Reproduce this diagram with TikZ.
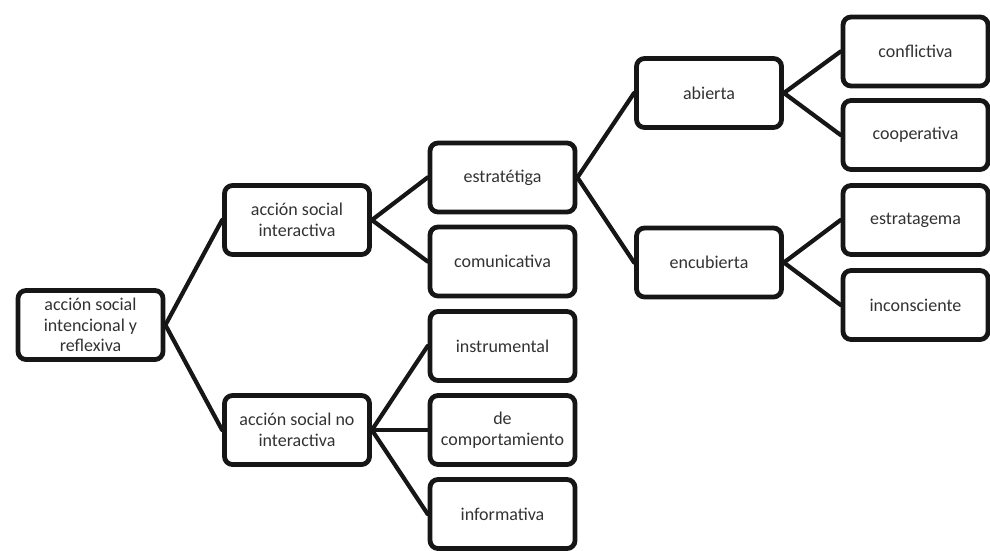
\documentclass[tikz,border=0pt]{standalone}
\usepackage{fontspec}
\setmainfont{Carlito}
\definecolor{boxline}{RGB}{22, 22, 22}
\definecolor{boxtext}{RGB}{50, 50, 50}
\tikzset{
    box/.style={draw=boxline, line width=4.8pt, rounded corners=8pt,
        minimum width=145pt, minimum height=69pt, align=center,
        text=boxtext, font=\fontsize{18}{20.5}\selectfont},
    link/.style={draw=boxline, line width=4.2pt, line cap=round},
}

\begin{document}
\begin{tikzpicture}[x=1pt, y=-1pt]
        \useasboundingbox (0, 0) rectangle (990, 551);

        % columns
        \node[box] (root) at (90.5, 325) {acción social\\intencional y\\reflexiva};
        \node[box] (inter) at (297, 220) {acción social\\interactiva};
        \node[box] (nointer) at (297, 430) {acción social no\\interactiva};

        \node[box] (estr) at (502.5, 177.5) {estratétiga};
        \node[box] (comu) at (502.5, 261.5) {comunicativa};
        \node[box] (instr) at (502.5, 346) {instrumental};
        \node[box] (compo) at (502.5, 430) {de\\comportamiento};
        \node[box] (info) at (502.5, 514) {informativa};

        \node[box] (abie) at (709, 93) {abierta};
        \node[box] (encu) at (709, 262.5) {encubierta};

        \node[box] (confl) at (915.5, 51.5) {conflictiva};
        \node[box] (coop) at (915.5, 135) {cooperativa};
        \node[box] (strat) at (915.5, 220) {estratagema};
        \node[box] (incon) at (915.5, 305) {inconsciente};

        % branches
        \foreach \from/\to in {root/inter, root/nointer, inter/estr,
                inter/comu, nointer/instr, nointer/compo, nointer/info,
                estr/abie, estr/encu, abie/confl, abie/coop,
                encu/strat, encu/incon}{
            \draw[link] (\from.east) -- (\to.west);
        }
    \end{tikzpicture}
\end{document}
